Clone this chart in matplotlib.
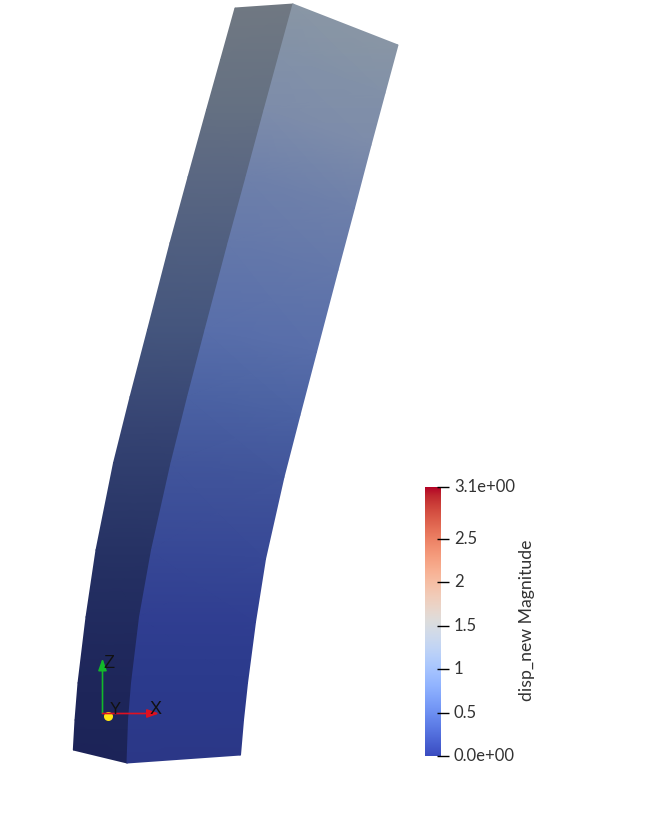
import numpy as np
import matplotlib
matplotlib.use('Agg')
import matplotlib.pyplot as plt
from matplotlib.colors import LinearSegmentedColormap

# beam outline, pixel coords (top to bottom)
left_x = [235, 220.5, 206.5, 188, 170, 147.5, 130, 113.5, 96, 86, 78, 75, 73.3]
left_y = [8, 60, 110, 177, 243, 330, 397, 463, 550, 617, 683, 720, 750]
mid_x = [293, 279, 264, 246, 228, 205, 187.5, 171, 151.5, 139.5, 131.5, 128.5, 127]
mid_y = [4, 55, 110, 177, 243, 330, 397, 463, 550, 617, 683, 720, 763]
right_x = [398, 385, 371, 354.5, 338, 316.5, 300, 284, 265.5, 255.5, 247.5, 243.5, 240.5]
right_y = [45, 93, 145, 208, 270, 352, 415, 477, 559, 622, 683, 720, 755]

# shade at each station
side_colors = ['#707882', '#6a7482', '#647082', '#5a6782', '#505f80', '#44557d', '#3a4976',
               '#303e6e', '#263264', '#212b5f', '#1e265a', '#1d2559', '#1c2358']
front_colors = ['#8996a5', '#8291a8', '#7d8caa', '#6e80aa', '#6478aa', '#586eaa', '#4b62a3',
                '#41559b', '#374896', '#303e91', '#2b3a8c', '#2b398a', '#2b3787']

# colorbar
bar_min = 0.0
bar_max = 3.1
bar_ticks = [0, 0.5, 1, 1.5, 2, 2.5, 3.1]
bar_labels = ['0.0e+00', '0.5', '1', '1.5', '2', '2.5', '3.1e+00']
bar_title = 'disp_new Magnitude'

W, H = 648, 816
font = 'Lato'


def draw_face(ax, x0, y0, x1, y1, colors):
    n = len(colors)
    cmap = LinearSegmentedColormap.from_list('face', list(zip(np.linspace(0, 1, n), colors)), N=512)
    X = np.array([x0, x1], dtype=float)
    Y = np.array([y0, y1], dtype=float)
    C = np.array([np.arange(n), np.arange(n)], dtype=float)
    ax.pcolormesh(X, Y, C, cmap=cmap, shading='gouraud', vmin=0, vmax=n - 1, antialiased=True)


def draw_arrow(ax, start, end, color):
    ax.annotate('', xy=end, xytext=start,
                arrowprops=dict(arrowstyle='-|>,head_length=1.0,head_width=0.36', mutation_scale=7,
                                color=color, lw=1.2, shrinkA=0, shrinkB=0))


fig = plt.figure(figsize=(W / 100, H / 100), dpi=100, facecolor='white')
ax = fig.add_axes([0, 0, 1, 1])
ax.set_xlim(0, W)
ax.set_ylim(H, 0)
ax.axis('off')

draw_face(ax, left_x, left_y, mid_x, mid_y, side_colors)
draw_face(ax, mid_x, mid_y, right_x, right_y, front_colors)

# orientation triad
ox, oy = 102.5, 713.5
ax.plot([107.5], [716], marker='o', ms=6.5, color='#ffe614', mew=0)
draw_arrow(ax, (ox, oy), (ox, 658.5), '#12b82a')
draw_arrow(ax, (ox, oy), (159, oy), '#e01020')
ax.text(109, 664, 'Z', fontsize=13, family='Liberation Sans', color='#111111', ha='center', va='center')
ax.text(115, 710, 'Y', fontsize=12, family='Liberation Sans', color='#111111', ha='center', va='center')
ax.text(155.5, 709, 'X', fontsize=13, family='Liberation Sans', color='#111111', ha='center', va='center')

# scalar bar
cax = fig.add_axes([425 / W, 1 - 756 / H, 16 / W, 269 / H])
grad = np.linspace(bar_min, bar_max, 256).reshape(-1, 1)
cax.imshow(grad, origin='lower', aspect='auto', cmap='coolwarm',
           extent=[0, 1, bar_min, bar_max])
cax.set_xticks([])
cax.set_yticks([])
for s in cax.spines.values():
    s.set_visible(False)
cax.hlines(bar_ticks, 0.75, 1.5, transform=cax.get_yaxis_transform(), color='black', lw=1, clip_on=False)
for v, lab in zip(bar_ticks, bar_labels):
    cax.annotate(lab, xy=(1, v), xycoords=cax.get_yaxis_transform(), xytext=(13, 0),
                 textcoords='offset pixels', fontsize=12, family=font, color='#333333',
                 ha='left', va='center')
ax.text(527, 620, bar_title, rotation=90, fontsize=12.7, family=font, color='#333333',
        ha='center', va='center')

fig.savefig('out.png', dpi=100)
